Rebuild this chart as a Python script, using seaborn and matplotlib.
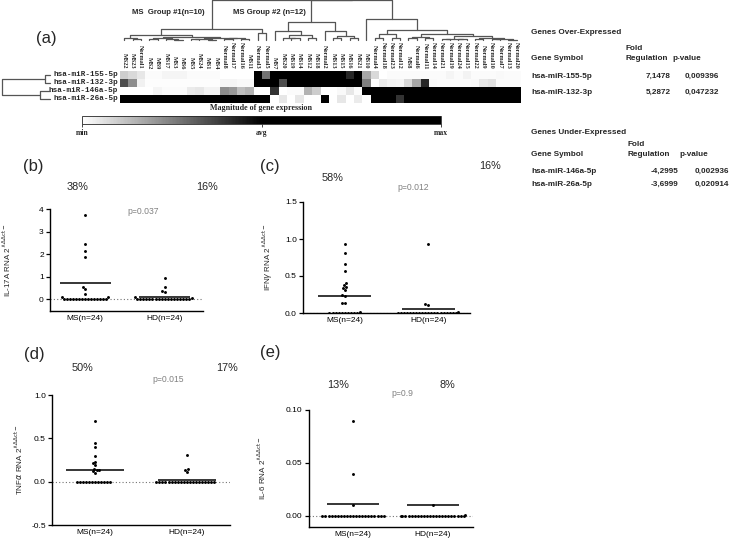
import matplotlib
matplotlib.use("Agg")
import matplotlib.pyplot as plt
import numpy as np
import pandas as pd
import seaborn as sns
from matplotlib.cm import ScalarMappable
from matplotlib.colors import LinearSegmentedColormap, Normalize
from matplotlib.ticker import FormatStrFormatter

W, H = 730, 542

# ---- panel (a): heatmap of miRNA expression ----
SAMPLES = [
    "MS22", "MS23", "Normal1", "MS2", "MS9", "MS17", "MS3", "MS6", "MS5", "MS24",
    "MS1", "MS4", "Normal8", "Normal17", "Normal16", "MS11", "Normal3", "Normal5",
    "MS7", "MS20", "MS19", "MS14", "MS12", "MS18", "Normal2", "MS13", "MS15",
    "MS16", "MS21", "MS10", "Normal4", "Normal18", "Normal23", "Normal12", "MS8",
    "Normal6", "Normal11", "Normal14", "Normal21", "Normal19", "Normal24",
    "Normal15", "Normal22", "Normal9", "Normal10", "Normal7", "Normal13", "Normal20",
]
MIRNAS = ["hsa-miR-155-5p", "hsa-miR-132-3p", "hsa-miR-146a-5p", "hsa-miR-26a-5p"]

# magnitude: 0 = min, 1 = avg, 2 = max
EXPR_155 = [0.2, 0.15, 0.1, 0.02, 0.02, 0.04, 0.04, 0.04, 0.02, 0.02, 0.02, 0.02,
            0.0, 0.0, 0.0, 0.0, 1.6, 0.55, 1.5, 1.6, 1.5, 1.7, 1.5, 1.6, 1.5, 1.6,
            1.5, 0.85, 1.5, 0.35, 0.15, 0.0, 0.02, 0.02, 0.02, 0.02, 0.02, 0.02,
            0.02, 0.04, 0.02, 0.05, 0.02, 0.02, 0.02, 0.03, 0.02, 0.02]
EXPR_132 = [0.7, 0.45, 0.06, 0.01, 0.01, 0.01, 0.01, 0.01, 0.01, 0.01, 0.01, 0.01,
            0.04, 0.04, 0.03, 0.03, 1.5, 1.6, 1.5, 0.7, 1.5, 1.6, 1.5, 1.5, 1.6,
            1.5, 1.5, 1.6, 1.5, 0.5, 0.0, 0.08, 0.05, 0.04, 0.15, 0.35, 0.85, 0.03,
            0.02, 0.02, 0.02, 0.02, 0.03, 0.1, 0.12, 0.02, 0.02, 0.02]
EXPR_146A = [0.0, 0.0, 0.0, 0.0, 0.04, 0.02, 0.02, 0.02, 0.08, 0.1, 0.05, 0.05,
             0.45, 0.4, 0.25, 0.3, 0.0, 0.0, 0.8, 0.0, 0.02, 0.02, 0.3, 0.2, 0.0,
             0.0, 0.03, 0.1, 0.02, 1.5, 1.6, 1.5, 1.5, 1.6, 1.5, 1.5, 1.6, 1.5,
             1.5, 1.6, 1.5, 1.5, 1.6, 1.5, 1.5, 1.6, 1.5, 1.5]
EXPR_26A = [1.5, 1.6, 1.5, 1.5, 1.6, 1.5, 1.5, 1.6, 1.5, 1.5, 1.6, 1.5, 1.5, 1.6,
            1.5, 1.5, 1.6, 1.5, 0.0, 0.1, 0.0, 0.1, 0.0, 0.0, 1.5, 0.0, 0.1, 0.0,
            0.08, 0.0, 1.5, 1.6, 1.5, 0.8, 1.5, 1.6, 1.5, 1.5, 1.6, 1.5, 1.5, 1.6,
            1.5, 1.5, 1.6, 1.5, 1.5, 1.6]

# dendrograms as (height, left, right); ints are leaf positions
COL_TREE = (
    1.0,
    (0.275,
     (0.125,
      (0.06, 0, (0.03, 1, 2)),
      (0.08,
       (0.05, (0.03, 3, 4), (0.02, 5, (0.01, 6, 7))),
       (0.06,
        (0.03, (0.02, 8, 9), (0.01, 10, 11)),
        (0.04, (0.02, 12, 13), (0.03, 14, 15))))),
     (0.17, 16, 17)),
    (1.0,
     (0.45,
      (0.22, 18, (0.12, (0.06, 19, (0.04, 20, 21)), (0.05, 22, 23))),
      (0.22, 24, (0.1, (0.05, 25, 26), (0.06, 27, 28)))),
     (0.52, 29,
      (0.25,
       (0.15, (0.05, 30, 31), (0.04, 32, 33)),
       (0.15,
        (0.08, (0.04, 34, 35), (0.05, 36, 37)),
        (0.1,
         (0.03, (0.02, 38, 39), (0.02, 40, 41)),
         (0.04, (0.02, 42, 43), (0.03, (0.02, 44, 45), (0.01, 46, 47)))))))),
)
ROW_TREE = (1.0, (0.1, 0, 1), (0.2, 2, 3))

UP_GENES = ["hsa-miR-155-5p", "hsa-miR-132-3p"]
UP_FOLD = [7.1478, 5.2872]
UP_P = [0.009396, 0.047232]
DOWN_GENES = ["hsa-miR-146a-5p", "hsa-miR-26a-5p"]
DOWN_FOLD = [-4.2995, -3.6999]
DOWN_P = [0.002936, 0.020914]

# ---- panels (b)-(e): cytokine RNA levels ----
GROUPS = ["MS(n=24)", "HD(n=24)"]

IL17_MS = [3.73, 2.44, 2.15, 1.85, 0.52, 0.44, 0.22, 0.10, 0.10,
           0, 0, 0, 0, 0, 0, 0, 0, 0, 0, 0, 0, 0, 0, 0]
IL17_HD = [0.92, 0.52, 0.35, 0.30, 0.10, 0.03,
           0, 0, 0, 0, 0, 0, 0, 0, 0, 0, 0, 0, 0, 0, 0, 0, 0, 0]
IL17_LINE = [0.71, 0.07]

IFNG_MS = [0.93, 0.81, 0.66, 0.57, 0.41, 0.38, 0.35, 0.34, 0.31, 0.24, 0.23, 0.14,
           0.13, 0.01, 0, 0, 0, 0, 0, 0, 0, 0, 0, 0]
IFNG_HD = [0.93, 0.12, 0.11, 0.02,
           0, 0, 0, 0, 0, 0, 0, 0, 0, 0, 0, 0, 0, 0, 0, 0, 0, 0, 0, 0]
IFNG_LINE = [0.23, 0.05]

TNFA_MS = [0.70, 0.45, 0.40, 0.30, 0.23, 0.21, 0.19, 0.15, 0.14, 0.13, 0.12, 0.10,
           0, 0, 0, 0, 0, 0, 0, 0, 0, 0, 0, 0]
TNFA_HD = [0.31, 0.15, 0.14, 0.11,
           0, 0, 0, 0, 0, 0, 0, 0, 0, 0, 0, 0, 0, 0, 0, 0, 0, 0, 0, 0]
TNFA_LINE = [0.13, 0.02]

IL6_MS = [0.09, 0.04, 0.01,
          0, 0, 0, 0, 0, 0, 0, 0, 0, 0, 0, 0, 0, 0, 0, 0, 0, 0, 0, 0, 0]
IL6_HD = [0.01, 0.001,
          0, 0, 0, 0, 0, 0, 0, 0, 0, 0, 0, 0, 0, 0, 0, 0, 0, 0, 0, 0, 0, 0]
IL6_LINE = [0.011, 0.010]

MAG_CMAP = LinearSegmentedColormap.from_list(
    "magnitude", [(0.0, "white"), (0.5, "black"), (1.0, "black")])
TREE_COLOR = "#555555"


def px_axes(fig, x0, y0, x1, y1):
    """Add axes given pixel box (top-left origin)."""
    return fig.add_axes([x0 / W, 1 - y1 / H, (x1 - x0) / W, (y1 - y0) / H])


def px_text(fig, x, y, s, **kw):
    kw.setdefault("va", "center")
    return fig.text(x / W, 1 - y / H, s, **kw)


def draw_tree(ax, node, vertical):
    """Recursively draw a dendrogram, returns (position, height)."""
    if isinstance(node, int):
        return node + 0.5, 0.0
    h, left, right = node
    pl, hl = draw_tree(ax, left, vertical)
    pr, hr = draw_tree(ax, right, vertical)
    pos = [pl, pl, pr, pr]
    hts = [hl, h, h, hr]
    if vertical:
        ax.plot(pos, hts, color=TREE_COLOR, lw=0.9, clip_on=False)
    else:
        ax.plot(hts, pos, color=TREE_COLOR, lw=0.9, clip_on=False)
    return (pl + pr) / 2, h


def cytokine_panel(fig, box, ms, hd, line, ylim, yticks, fmt, ylabel, xlim, label_x):
    ax = px_axes(fig, *box)
    df = pd.DataFrame({
        "group": [GROUPS[0]] * len(ms) + [GROUPS[1]] * len(hd),
        "value": ms + hd,
    })
    ax.axhline(0, color="0.45", lw=0.8, ls=(0, (1, 2)), zorder=0)
    sns.swarmplot(data=df, x="group", y="value", order=GROUPS, color="black",
                  size=2.1, linewidth=0, ax=ax, warn_thresh=1)
    pos = np.arange(len(GROUPS))
    ax.hlines(line, pos - 0.32, pos + 0.32, color="black", lw=1.1)
    ax.set_xlim(*xlim)
    ax.set_ylim(*ylim)
    ax.set_yticks(yticks)
    ax.yaxis.set_major_formatter(FormatStrFormatter(fmt))
    ax.set_xlabel("")
    ax.set_ylabel(ylabel, fontsize=5.8)
    ax.yaxis.set_label_coords(label_x, 0.5)
    sns.despine(ax=ax)
    for side in ("left", "bottom"):
        ax.spines[side].set_linewidth(1.0)
        ax.spines[side].set_color("black")
    ax.tick_params(axis="y", length=3, width=0.9, labelsize=6, pad=1.5, colors="black")
    ax.tick_params(axis="x", length=0, labelsize=6, pad=3, colors="black")
    return ax


sns.set_theme(style="ticks")
plt.rcParams["font.family"] = ["Liberation Sans", "DejaVu Sans"]
plt.rcParams["mathtext.fontset"] = "dejavusans"

fig = plt.figure(figsize=(W / 100, H / 100), dpi=100)

# heatmap
HM = (120, 71, 521, 103)
ax_hm = px_axes(fig, *HM)
expr = pd.DataFrame([EXPR_155, EXPR_132, EXPR_146A, EXPR_26A], index=MIRNAS, columns=SAMPLES)
sns.heatmap(expr, ax=ax_hm, cmap=MAG_CMAP, vmin=0, vmax=2, cbar=False,
            xticklabels=SAMPLES, yticklabels=MIRNAS, linewidths=0)
ax_hm.xaxis.tick_top()
ax_hm.tick_params(axis="both", length=0, pad=1.5)
ax_hm.set_xlabel("")
ax_hm.set_ylabel("")
for t in ax_hm.get_xticklabels():
    t.set(rotation=270, fontsize=4.5, fontfamily="Liberation Serif",
          fontweight="bold", va="bottom", ha="center")
for t in ax_hm.get_yticklabels():
    t.set(rotation=0, fontsize=5.5, fontfamily="Liberation Mono", fontweight="bold")

# column dendrogram
ax_cd = px_axes(fig, HM[0], 0, HM[2], 40)
draw_tree(ax_cd, COL_TREE, vertical=True)
ax_cd.set_xlim(0, len(SAMPLES))
ax_cd.set_ylim(0, 1.0)
ax_cd.axis("off")

# row dendrogram
ax_rd = px_axes(fig, 2, HM[1], 50, HM[3])
draw_tree(ax_rd, ROW_TREE, vertical=False)
ax_rd.set_ylim(len(MIRNAS), 0)
ax_rd.set_xlim(1.0, 0)
ax_rd.axis("off")

px_text(fig, 205, 13, "MS  Group #1(n=10)", ha="right", fontsize=5.6, fontweight="bold")
px_text(fig, 306, 13, "MS Group #2 (n=12)", ha="right", fontsize=5.6, fontweight="bold")

# colour key
ax_cb = px_axes(fig, 82, 116, 441, 124)
cb = fig.colorbar(ScalarMappable(norm=Normalize(0, 2), cmap=MAG_CMAP), cax=ax_cb,
                  orientation="horizontal")
cb.set_ticks([0, 1, 2])
cb.set_ticklabels(["min", "avg", "max"])
cb.outline.set_linewidth(0.6)
cb.ax.tick_params(length=2, width=0.6, pad=1.5)
for t in cb.ax.get_xticklabels():
    t.set(fontsize=5.5, fontfamily="Liberation Serif", fontweight="bold")
px_text(fig, 261, 108, "Magnitude of gene expression", ha="center", fontsize=5.8,
        fontfamily="Liberation Serif", fontweight="bold")

px_text(fig, 46, 39, "(a)", ha="center", fontsize=12)

# fold regulation tables
tb = dict(fontsize=5.9, fontweight="bold")
px_text(fig, 531, 33, "Genes Over-Expressed", **tb)
px_text(fig, 626, 48, "Fold", **tb)
px_text(fig, 531, 58, "Gene Symbol", **tb)
px_text(fig, 626, 58, "Regulation", **tb)
px_text(fig, 672, 58, "p-value", **tb)
for i, (g, f, p) in enumerate(zip(UP_GENES, UP_FOLD, UP_P)):
    y = 76 + 16 * i
    px_text(fig, 531, y, g, **tb)
    px_text(fig, 671, y, f"{f:.4f}".replace(".", ","), ha="right", **tb)
    px_text(fig, 719, y, f"{p:.6f}".replace(".", ","), ha="right", **tb)

px_text(fig, 531, 132, "Genes Under-Expressed", **tb)
px_text(fig, 627, 145, "Fold", **tb)
px_text(fig, 531, 155, "Gene Symbol", **tb)
px_text(fig, 627, 155, "Regulation", **tb)
px_text(fig, 679, 155, "p-value", **tb)
for i, (g, f, p) in enumerate(zip(DOWN_GENES, DOWN_FOLD, DOWN_P)):
    y = 171 + 13 * i
    px_text(fig, 531, y, g, **tb)
    px_text(fig, 678, y, f"{f:.4f}".replace(".", ","), ha="right", **tb)
    px_text(fig, 729, y, f"{p:.6f}".replace(".", ","), ha="right", **tb)

SUP = r"$^{\wedge\Delta\Delta\mathrm{ct-}}$"

cytokine_panel(fig, (50, 209, 203, 311), IL17_MS, IL17_HD, IL17_LINE,
               (-0.53, 4), [0, 1, 2, 3, 4], "%d", "IL-17A RNA 2" + SUP,
               (-0.44, 1.48), -0.24)
cytokine_panel(fig, (303, 202, 470, 313), IFNG_MS, IFNG_HD, IFNG_LINE,
               (0, 1.5), [0.0, 0.5, 1.0, 1.5], "%.1f", r"IFN$\gamma$ RNA 2" + SUP,
               (-0.5, 1.5), -0.17)
cytokine_panel(fig, (52, 395, 230, 525), TNFA_MS, TNFA_HD, TNFA_LINE,
               (-0.5, 1.0), [-0.5, 0.0, 0.5, 1.0], "%.1f", r"TNF$\alpha$ RNA 2" + SUP,
               (-0.47, 1.47), -0.15)
cytokine_panel(fig, (309, 410, 473, 527), IL6_MS, IL6_HD, IL6_LINE,
               (-0.0104, 0.10), [0.00, 0.05, 0.10], "%.2f", "IL-6 RNA 2" + SUP,
               (-0.55, 1.5), -0.25)

# panel letters, positive fractions and p-values
for x, y, s in [(33, 166, "(b)"), (270, 166, "(c)"), (34, 355, "(d)"), (270, 352, "(e)")]:
    px_text(fig, x, y, s, ha="center", fontsize=12)
for x, y, s in [(78, 187, "38%"), (207, 187, "16%"), (333, 178, "58%"), (490, 166, "16%"),
                (82, 368, "50%"), (227, 368, "17%"), (338, 385, "13%"), (447, 385, "8%")]:
    px_text(fig, x, y, s, ha="center", fontsize=7.8)
for x, y, s in [(143, 212, "p=0.037"), (413, 187, "p=0.012"), (168, 380, "p=0.015"),
                (402, 394, "p=0.9")]:
    px_text(fig, x, y, s, ha="center", fontsize=6.2, color="0.5")

fig.savefig("out.png", dpi=100)
